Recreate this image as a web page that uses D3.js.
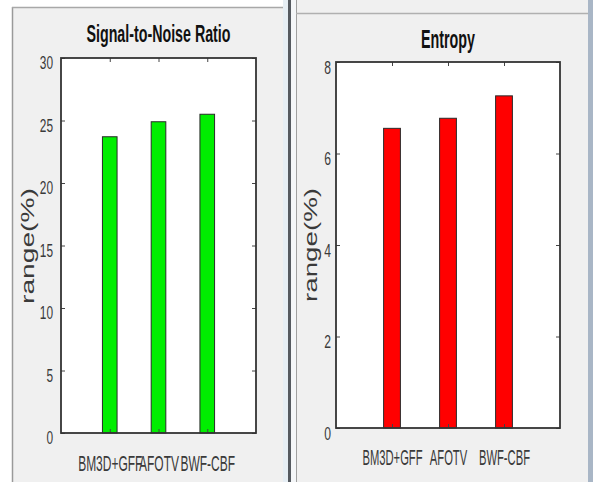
<!DOCTYPE html>
<html><head><meta charset="utf-8">
<script src="https://cdn.jsdelivr.net/npm/d3@7"></script>
<style>body{margin:0;background:#fff}svg{display:block}text{font-family:"Liberation Sans",Arial,sans-serif}</style>
</head><body>
<svg id="c" width="593" height="482"></svg>
<script>
const categories = ["BM3D+GFF", "AFOTV", "BWF-CBF"];
const snrValues = [23.7, 24.9, 25.5];
const entropyValues = [6.55, 6.77, 7.26];
const snrTicks = [0, 5, 10, 15, 20, 25, 30];
const entropyTicks = [0, 2, 4, 6, 8];
const titles = ["Signal-to-Noise Ratio", "Entropy"];
const yLabel = "range(%)";

const svg = d3.select("#c");

// window chrome
svg.append("rect").attr("x",12).attr("y",7).attr("width",274).attr("height",480).attr("fill","#f0f0f0");
svg.append("line").attr("x1",12.5).attr("x2",12.5).attr("y1",7).attr("y2",482).attr("stroke","#9a9a9a").attr("stroke-width",1.5);
svg.append("line").attr("x1",12).attr("x2",286).attr("y1",7.5).attr("y2",7.5).attr("stroke","#a8a8a8").attr("stroke-width",1.5);
svg.append("rect").attr("x",283).attr("y",0).attr("width",5).attr("height",482).attr("fill","#e6eef4");
svg.append("rect").attr("x",288).attr("y",0).attr("width",3).attr("height",482).attr("fill","#555a60");
svg.append("rect").attr("x",291).attr("y",0).attr("width",5).attr("height",482).attr("fill","#f4f6f8");
svg.append("rect").attr("x",296).attr("y",0).attr("width",292).attr("height",482).attr("fill","#f0f0f0");
svg.append("line").attr("x1",296.5).attr("x2",296.5).attr("y1",0).attr("y2",482).attr("stroke","#a0a0a0");
svg.append("line").attr("x1",296).attr("x2",588).attr("y1",13.5).attr("y2",13.5).attr("stroke","#b0b0b0").attr("stroke-width",1.5);
svg.append("rect").attr("x",588).attr("y",0).attr("width",5).attr("height",482).attr("fill","#a9b6c6");

function panel(cfg) {
  const g = svg.append("g");
  const x = d3.scaleLinear().domain([0, 4]).range([cfg.left, cfg.right]);
  const y = d3.scaleLinear().domain([0, cfg.ymax]).range([cfg.bottom, cfg.top]);
  g.append("rect").attr("x",cfg.left).attr("y",cfg.top).attr("width",cfg.right-cfg.left).attr("height",cfg.bottom-cfg.top).attr("fill","#fff");
  const bw = x(0.3) - x(0);
  g.selectAll("rect.bar").data(cfg.values).join("rect").attr("class","bar")
    .attr("x",(d,i)=>x(i+1)-bw/2).attr("width",bw)
    .attr("y",d=>y(d)).attr("height",d=>y(0)-y(d))
    .attr("fill",cfg.color).attr("stroke","#2a2a2a").attr("stroke-width",1);
  const tickLen = 4;
  const yl = g.append("g").attr("transform",`translate(${cfg.left},0)`)
    .call(d3.axisLeft(y).tickValues(cfg.ticks).tickSize(-tickLen).tickPadding(cfg.tickPad).tickFormat(d3.format("d")));
  const yr = g.append("g").attr("transform",`translate(${cfg.right},0)`)
    .call(d3.axisRight(y).tickValues(cfg.ticks).tickSize(-tickLen).tickFormat(""));
  const xb = g.append("g").attr("transform",`translate(0,${cfg.bottom})`)
    .call(d3.axisBottom(x).tickValues([1,2,3]).tickSize(-tickLen).tickPadding(cfg.catPad).tickFormat((d)=>categories[d-1]));
  const xt = g.append("g").attr("transform",`translate(0,${cfg.top})`)
    .call(d3.axisTop(x).tickValues([1,2,3]).tickSize(-tickLen).tickFormat(""));
  [yl,yr,xb,xt].forEach(a=>{
    a.select(".domain").remove();
    a.selectAll(".tick line").attr("stroke","#444");
  });
  yl.selectAll(".tick text").attr("fill","#3a3a3a").style("font-size",cfg.tickFont+"px")
    .attr("transform",`translate(${-cfg.tickPad},5) scale(${cfg.tickSX},1)`).attr("x",0);
  xb.selectAll(".tick text").attr("fill","#3a3a3a").style("font-size",cfg.catFont+"px")
    .attr("transform",`scale(${cfg.catSX},1)`);
  g.append("rect").attr("x",cfg.left).attr("y",cfg.top).attr("width",cfg.right-cfg.left).attr("height",cfg.bottom-cfg.top)
    .attr("fill","none").attr("stroke","#333").attr("stroke-width",1.8);
  g.append("text").attr("x",(cfg.left+cfg.right)/2).attr("y",cfg.titleY)
    .attr("text-anchor","middle").style("font-size",cfg.titleFont+"px").style("font-weight","bold").attr("fill","#111")
    .attr("textLength",cfg.titleLen).attr("lengthAdjust","spacingAndGlyphs")
    .text(cfg.title);
  g.append("text").attr("transform",`translate(${cfg.labelX},${cfg.labelY}) rotate(-90)`)
    .attr("text-anchor","middle").style("font-size",cfg.labelFont+"px").attr("fill","#3a3a3a")
    .attr("textLength",cfg.labelLen).attr("lengthAdjust","spacingAndGlyphs").text(yLabel);
}

panel({left:61,right:256,top:58,bottom:433,ymax:30,ticks:snrTicks,values:snrValues,color:"#00ee00",
  title:titles[0],titleY:42,titleFont:24,titleLen:144,labelX:34,labelY:246,labelFont:19,labelLen:116,
  tickFont:18,tickSX:0.66,tickPad:8,catFont:22,catSX:0.545,catPad:22});
panel({left:336,right:560,top:62,bottom:428,ymax:8,ticks:entropyTicks,values:entropyValues,color:"#ff0000",
  title:titles[1],titleY:48,titleFont:26,titleLen:54,labelX:317,labelY:245,labelFont:19,labelLen:114,
  tickFont:19,tickSX:0.64,tickPad:5,catFont:22,catSX:0.51,catPad:21});
</script>
</body></html>
